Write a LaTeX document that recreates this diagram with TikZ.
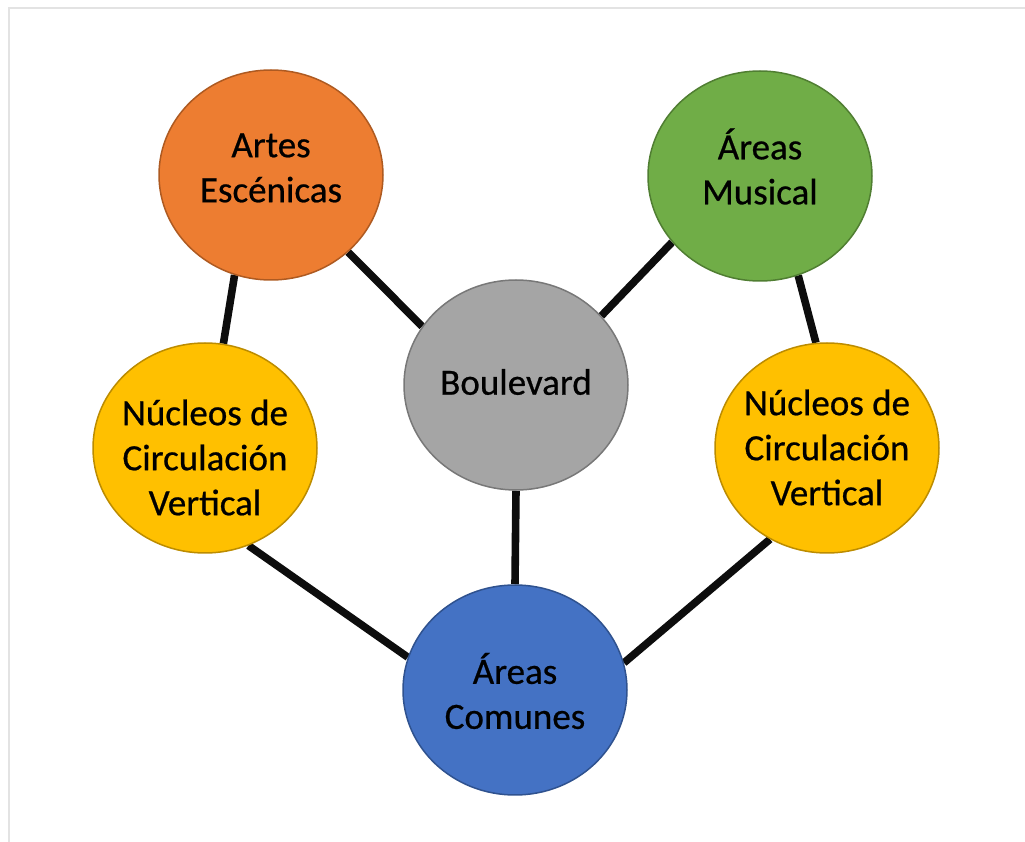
\documentclass[tikz,border=0pt]{standalone}
\usepackage{fontspec}
\setmainfont{Carlito}
\newfontfamily\bubblefont{Carlito}[FakeBold=0.6]
\usepackage{xcolor}
\usepackage{tikz}
\usetikzlibrary{shapes.geometric,backgrounds}
\definecolor{artesbg}{HTML}{ED7D31}
\definecolor{artesrule}{HTML}{AE5A21}
\definecolor{musicabg}{HTML}{70AD47}
\definecolor{musicarule}{HTML}{507E32}
\definecolor{boulbg}{HTML}{A5A5A5}
\definecolor{boulrule}{HTML}{787878}
\definecolor{nucbg}{HTML}{FFC000}
\definecolor{nucrule}{HTML}{BC8C00}
\definecolor{comunbg}{HTML}{4472C4}
\definecolor{comunrule}{HTML}{2F528F}
\definecolor{linkblack}{HTML}{0D0D0D}
\definecolor{framegray}{HTML}{E3E3E3}

\begin{document}
\begin{tikzpicture}[x=0.5pt,y=0.5pt,
  bubble/.style={ellipse,line width=0.75pt,minimum width=112pt,
              minimum height=105pt,inner sep=0pt},
  bubbletxt/.style={align=center,inner sep=0pt,
              font=\bubblefont\fontsize{18.5}{22.5}\selectfont},
  link/.style={draw=linkblack,line width=3.8pt}]
  \useasboundingbox (0,0) rectangle (1025,842);
  \draw[framegray,line width=1pt](8.5,0)--(8.5,833.5)--(1025,833.5);
  \node[bubble,fill=artesbg,draw=artesrule,
        label={[bubbletxt,yshift=3.5pt]center:Artes\\Escénicas}](artes) at (271,667){};
  \node[bubble,fill=musicabg,draw=musicarule,
        label={[bubbletxt,yshift=4.75pt]center:Áreas\\Musical}](musica) at (760,666){};
  \node[bubble,fill=boulbg,draw=boulrule,
        label={[bubbletxt,yshift=1.5pt]center:Boulevard}](boul) at (516,457){};
  \node[bubble,fill=nucbg,draw=nucrule,
        label={[bubbletxt,yshift=-4.75pt]center:Núcleos de\\Circulación\\Vertical}](nucl) at (205,394){};
  \node[bubble,fill=nucbg,draw=nucrule,
        label={[bubbletxt,yshift=0.25pt]center:Núcleos de\\Circulación\\Vertical}](nucr) at (827,394){};
  \node[bubble,fill=comunbg,draw=comunrule,
        label={[bubbletxt,yshift=-0.5pt]center:Áreas\\Comunes}](comun) at (515,152){};
  \begin{scope}[on background layer]
    \draw[link](artes.250)--(nucl.80);
    \draw[link](artes.315)--(boul.148);
    \draw[link](musica.217)--(boul.39);
    \draw[link](musica.291)--(nucr.96.5);
    \draw[link](boul.270)--(comun.90);
    \draw[link](nucl.294)--(comun.163);
    \draw[link](nucr.238.6)--(comun.14.7);
  \end{scope}
\end{tikzpicture}
\end{document}
